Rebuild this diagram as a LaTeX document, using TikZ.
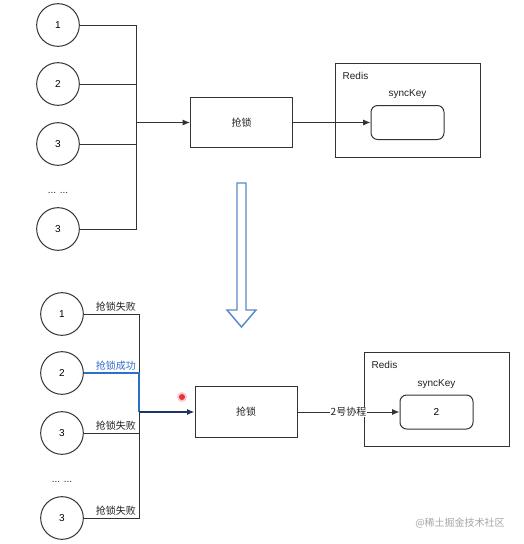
\documentclass[tikz,border=0pt]{standalone}
\usepackage{fontspec}
\setmainfont{Liberation Sans}
\newfontfamily\cjk{Noto Sans CJK SC}
\usepackage{tikz}
\usetikzlibrary{positioning,arrows.meta}

\tikzset{
  proc/.style={draw=lineGray,circle,minimum size=32pt,inner sep=0pt,line width=0.75pt},
  lockbox/.style={draw=lineGray,rectangle,minimum width=76.5pt,minimum height=38pt,line width=0.75pt},
  redisbox/.style={draw=lineGray,rectangle,minimum width=108.75pt,minimum height=70.5pt,line width=0.75pt},
  keybox/.style={draw=lineGray,rectangle,rounded corners=5pt,minimum width=54.75pt,minimum height=25.5pt,line width=0.75pt},
  wire/.style={lineGray,line width=0.75pt},
  tip/.style={-{Latex[length=5.5pt,width=4.5pt]}},
  lbl/.style={font=\cjk\fontsize{7.5}{8}\selectfont,text=textGray,inner sep=1.5pt}
}

\begin{document}
\begin{tikzpicture}[x=0.75pt,y=-0.75pt,font=\fontsize{7.5}{8}\selectfont]
\definecolor{lineGray}{HTML}{333333}
\definecolor{textGray}{HTML}{222222}
\definecolor{flowBlue}{HTML}{5A8AC8}
\definecolor{okBlue}{HTML}{2E6FC9}
\definecolor{navyArrow}{HTML}{1E3560}
\definecolor{markRed}{HTML}{E8323C}
\useasboundingbox (0,0) rectangle (524,544);
\fill[white] (0,0) rectangle (524,544);

% before: every coroutine grabs the lock
\node[proc] (a1) at (58,25) {1};
\node[proc] (a2) at (58,84) {2};
\node[proc] (a3) at (58,144) {3};
\node[text=textGray] (adots) at (58,193) {... ...};
\node[proc] (a4) at (58,229) {3};
\coordinate (busA) at (136,122.5);
\foreach \c in {a1,a2,a3,a4} {
  \draw[wire] (\c.east) -| (busA);
}
\node[lockbox,lbl,draw=lineGray] (lockA) at (241.5,122.5) {抢锁};
\draw[wire,tip] (busA) -- (lockA.west);
\node[redisbox] (redisA) at (407.5,110) {};
\node[anchor=west,text=textGray] (redisAlab) at (338,76) {Redis};
\node[keybox] (keyA) at (407.5,122.5) {};
\node[above=1pt of keyA,text=textGray] (keyAlab) {syncKey};
\draw[wire,tip] (lockA.east) -- (keyA.west);

% hollow arrow between the two states
\draw[flowBlue,line width=1.1pt,fill=white,line join=miter]
  (237,183) -- (246,183) -- (246,310) -- (256,310) -- (241.5,327)
  -- (227,310) -- (237,310) -- cycle;

% after: coroutine 2 wins
\node[proc] (b1) at (62,314) {1};
\node[proc] (b2) at (62,373) {2};
\node[proc] (b3) at (62,433) {3};
\node[text=textGray] (bdots) at (62,482) {... ...};
\node[proc] (b4) at (62,518) {3};
\coordinate (busB) at (139,412);
\draw[wire] (b1.east) -| node[lbl,pos=0.29,above] {抢锁失败} (busB);
\draw[wire] (b3.east) -| node[lbl,pos=0.29,above] {抢锁失败} (busB);
\draw[wire] (b4.east) -| node[lbl,pos=0.29,above] {抢锁失败} (busB);
\draw[okBlue,line width=0.9pt] (b2.east) -| node[lbl,text=okBlue,pos=0.29,above] {抢锁成功} (busB);
\node[lockbox,lbl,draw=lineGray] (lockB) at (246,412) {抢锁};
\draw[navyArrow,line width=1.1pt,tip] (busB) -- (lockB.west);
\node[redisbox] (redisB) at (436.5,399.5) {};
\node[anchor=west,text=textGray] (redisBlab) at (367,365) {Redis};
\node[keybox] (keyB) at (436.5,412) {2};
\node[above=1pt of keyB,text=textGray] (keyBlab) {syncKey};
\draw[wire,tip] (lockB.east) -- node[lbl,fill=white,inner sep=0.5pt] {2号协程} (keyB.west);

% pointer mark and site tag
\fill[markRed!25] (182,397) circle (5);
\fill[markRed] (182,397) circle (3);
\node[lbl,text=black!35] (tag) at (460,523) {@稀土掘金技术社区};
\end{tikzpicture}
\end{document}
